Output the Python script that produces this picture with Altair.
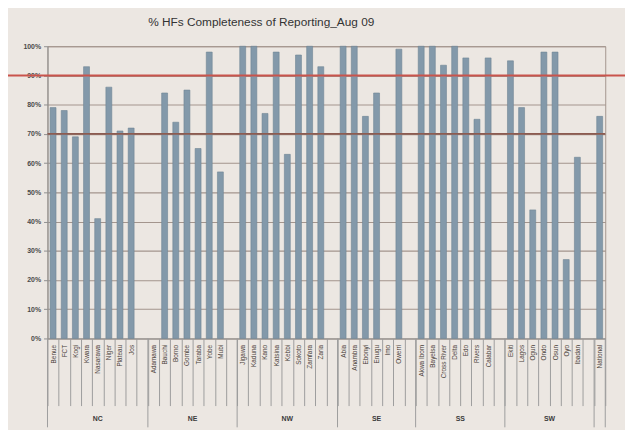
import altair as alt
import pandas as pd

# ---- data (percent of HFs reporting) ----
group_names = ["NC", "NE", "NW", "SE", "SS", "SW", ""]

nc_names = ["Benue", "FCT", "Kogi", "Kwara", "Nasarawa", "Niger", "Plateau", "Jos", ""]
nc_vals = [79, 78, 69, 93, 41, 86, 71, 72, None]
ne_names = ["Adamawa", "Bauchi", "Borno", "Gombe", "Taraba", "Yobe", "Mubi", ""]
ne_vals = [None, 84, 74, 85, 65, 98, 57, None]
nw_names = ["Jigawa", "Kaduna", "Kano", "Katsina", "Kebbi", "Sokoto", "Zamfara", "Zaria", ""]
nw_vals = [100, 100, 77, 98, 63, 97, 100, 93, None]
se_names = ["Abia", "Anambra", "Ebonyi", "Enugu", "Imo", "Owerri", ""]
se_vals = [100, 100, 76, 84, None, 99, None]
ss_names = ["Akwa Ibom", "Bayelsa", "Cross River", "Delta", "Edo", "Rivers", "Calabar", ""]
ss_vals = [100, 100, 93.5, 100, 96, 75, 96, None]
sw_names = ["Ekiti", "Lagos", "Ogun", "Ondo", "Osun", "Oyo", "Ibadan", ""]
sw_vals = [95, 79, 44, 98, 98, 27, 62, None]
last_names = ["National"]
last_vals = [76]

y_ticks = [0, 10, 20, 30, 40, 50, 60, 70, 80, 90, 100]
target_line = 90
second_line = 70
title = "% HFs Completeness of Reporting_Aug 09"

all_names = [nc_names, ne_names, nw_names, se_names, ss_names, sw_names, last_names]
all_vals = [nc_vals, ne_vals, nw_vals, se_vals, ss_vals, sw_vals, last_vals]

rows = []
group_starts = []
group_centers = []
i = 0
for g, names, vals in zip(group_names, all_names, all_vals):
    group_starts.append(i)
    group_centers.append(i + len(names) / 2)
    for n, v in zip(names, vals):
        rows.append({"slot": f"{i:02d}|{n}", "group": g,
                     "v": (v / 100 if v is not None else None)})
        i += 1
n_slots = i
slot_keys = [r["slot"] for r in rows]
df = pd.DataFrame(rows)

W, H = 565, 296
FONT = "Liberation Sans"
BAR = "#8399aa"
GRID = "#a3958d"

y_axis = alt.Axis(title=None, format=".0%", values=[t / 100 for t in y_ticks],
                  labelFontSize=7, labelFontWeight="bold", labelColor="#4a4a4a",
                  labelFont=FONT, tickSize=4, tickColor="#8e8e8e",
                  domainColor="#8e8e8e", gridColor=GRID, gridWidth=1.1,
                  labelPadding=3, labelOverlap=False)
y_scale = alt.Scale(domain=[0, 1])

bars = alt.Chart(df).transform_filter("isValid(datum.v)").mark_bar(
    size=6, color=BAR, stroke="#6f8494", strokeWidth=0.6
).encode(
    x=alt.X("slot:N", sort=slot_keys,
            scale=alt.Scale(domain=slot_keys, paddingInner=0, paddingOuter=0),
            axis=alt.Axis(title=None, labelAngle=-90, labelAlign="right",
                          labelBaseline="middle", labelFontSize=6.5,
                          labelColor="#4a3f3a", labelFont=FONT, labelPadding=-62,
                          labelExpr="split(datum.value, '|')[1]",
                          tickBand="extent", tickSize=68, tickColor="#9c9c9c",
                          domainColor="#9c9c9c", labelOverlap=False)),
    y=alt.Y("v:Q", scale=y_scale, axis=y_axis),
)

line70 = alt.Chart(pd.DataFrame({"v": [second_line / 100]})).mark_rule(
    color="#8c5b50", strokeWidth=1.6
).encode(y=alt.Y("v:Q", scale=y_scale, axis=y_axis), x=alt.value(0), x2=alt.value(W))

line90 = alt.Chart(pd.DataFrame({"v": [target_line / 100]})).mark_rule(
    color="#c9544c", strokeWidth=2
).encode(y=alt.Y("v:Q", scale=y_scale, axis=y_axis), x=alt.value(-48), x2=alt.value(W + 40))

seps = alt.Chart(pd.DataFrame({"p": group_starts + [n_slots]})).mark_rule(
    color="#9c9c9c", strokeWidth=1
).encode(
    x=alt.X("p:Q", scale=alt.Scale(domain=[0, n_slots]), axis=None),
    y=alt.value(H), y2=alt.value(H + 90),
)

gtext = alt.Chart(pd.DataFrame({"c": group_centers[:-1], "g": group_names[:-1]})).mark_text(
    fontSize=7, fontWeight="bold", font=FONT, color="#3a3a3a", baseline="middle"
).encode(
    x=alt.X("c:Q", scale=alt.Scale(domain=[0, n_slots]), axis=None),
    y=alt.value(H + 82),
    text="g:N",
)

chart = alt.layer(bars, line70, line90, seps, gtext).resolve_scale(
    x="independent"
).properties(
    width=W, height=H,
    autosize=alt.AutoSizeParams(type="none"),
    padding={"left": 40, "top": 36, "right": 20, "bottom": 90},
    background="#ece7e2",
    title=alt.TitleParams(title, fontSize=12, font=FONT, color="#333333",
                          fontWeight="normal", anchor="middle", dx=-66,
                          baseline="bottom", offset=2),
).configure_view(stroke="#a3958d")

chart.save("out.html", embed_options={"renderer": "svg", "actions": False})
